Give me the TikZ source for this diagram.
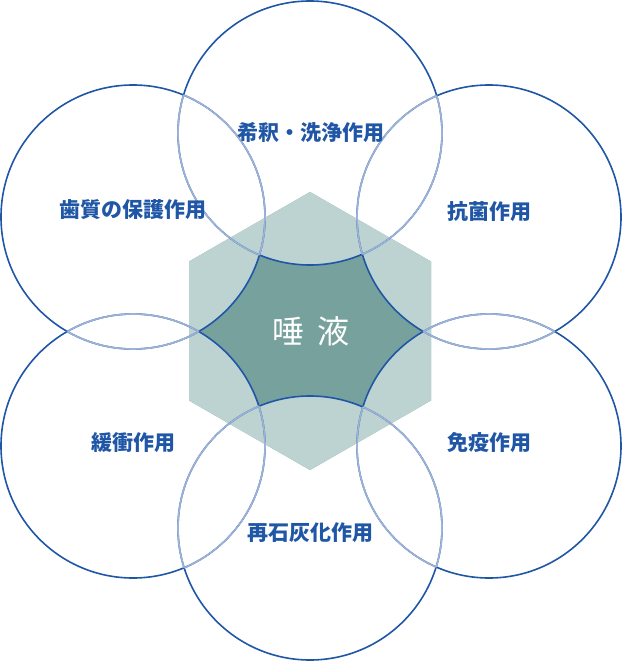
\documentclass[tikz,border=0pt]{standalone}
\usepackage{fontspec}
\setmainfont{Noto Sans CJK JP}
\usepackage{tikz}
\usetikzlibrary{positioning}
\definecolor{lblue}{HTML}{1F56A5}
\definecolor{fblue}{HTML}{9DB2D6}
\definecolor{hexlight}{HTML}{BCD3D2}
\definecolor{hexdark}{HTML}{76A19C}
\tikzstyle{lbl} = [text=lblue, font=\bfseries\fontsize{21}{21}\selectfont, inner sep=0pt]
\tikzstyle{ring} = [draw=lblue, line width=1.6pt]
\tikzstyle{ring_ig} = [draw=fblue, line width=1.6pt]

\begin{document}
\begin{tikzpicture}[x=1pt,y=-1pt]
    \useasboundingbox (0,0) rectangle (622,661);
    % circle centres
    \coordinate (Cf) at (310,133);
    \coordinate (Ca) at (489,217);
    \coordinate (Ci) at (489,446);
    \coordinate (Cr) at (310,528);
    \coordinate (Cb) at (133,446);
    \coordinate (Cp) at (133,217);
    % hexagon
    \fill[hexdark] (310,192) -- (431,261.5) -- (431,400.5) -- (310,470) -- (189,400.5) -- (189,261.5) -- cycle;
    \begin{scope}
        \clip (310,192) -- (431,261.5) -- (431,400.5) -- (310,470) -- (189,400.5) -- (189,261.5) -- cycle;
        \foreach \c in {Cf,Ca,Ci,Cr,Cb,Cp}
            \fill[hexlight] (\c) circle (132);
    \end{scope}
    % rings
    \foreach \c in {Cf,Ca,Ci,Cr,Cb,Cp}
        \draw[ring] (\c) circle (132);
    \foreach \c [count=\i] in {Cf,Ca,Ci,Cr,Cb,Cp} {
        \begin{scope}
            \clip (\c) circle (132);
            \foreach \d [count=\j] in {Cf,Ca,Ci,Cr,Cb,Cp} {
                \ifnum\i=\j\relax\else \draw[ring_ig] (\d) circle (132); \fi
            }
        \end{scope}
    }
    % labels
    \node (Saliva) [text=white, font=\fontsize{32}{32}\selectfont, inner sep=0pt] at (311,331) {唾\hspace{14pt}液};
    \node (Flush) [lbl] at (311,133) {希釈・洗浄作用};
    \node (Antib) [lbl] at (489,212) {抗菌作用};
    \node (Immun) [lbl] at (489,443) {免疫作用};
    \node (Remin) [lbl] at (310,533) {再石灰化作用};
    \node (Buffer) [lbl] at (133,443) {緩衝作用};
    \node (Protect) [lbl] at (133,210) {歯質の保護作用};
\end{tikzpicture}
\end{document}
